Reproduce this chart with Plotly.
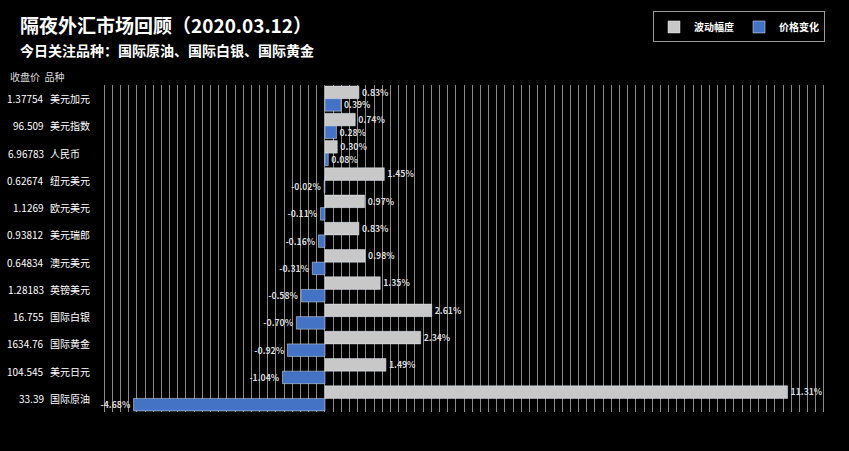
import plotly.graph_objects as go

names = ["美元加元","美元指数","人民币","纽元美元","欧元美元","美元瑞郎","澳元美元","英镑美元","国际白银","国际黄金","美元日元","国际原油"]
prices = ["1.37754","96.509","6.96783","0.62674","1.1269","0.93812","0.64834","1.28183","16.755","1634.76","104.545","33.39"]
wave = [0.83,0.74,0.30,1.45,0.97,0.83,0.98,1.35,2.61,2.34,1.49,11.31]
change = [0.39,0.28,0.08,-0.02,-0.11,-0.16,-0.31,-0.58,-0.70,-0.92,-1.04,-4.68]

F = "Noto Sans CJK SC"
W, H, L, R, T, B = 849, 451, 98, 23, 83, 39
PW, PH = W - L - R, H - T - B
def px(x): return (x - L) / PW
def py(y): return (H - B - y) / PH

fig = go.Figure()
fig.add_bar(y=names, x=wave, orientation="h", name="<b>波动幅度</b>", marker_color="#c8c8c8",
            text=[f"<b>{v:.2f}%</b>" for v in wave], textposition="outside", cliponaxis=False,
            textfont=dict(color="#dddddd", size=9, family=F))
fig.add_bar(y=names, x=change, orientation="h", name="<b>价格变化</b>", marker_color="#4472c4",
            text=[f"<b>{v:.2f}%</b>" for v in change], textposition="outside", cliponaxis=False,
            textfont=dict(color="#dddddd", size=9, family=F))

ann = []
for n, p in zip(names, prices):
    ann.append(dict(x=px(46), xref="paper", y=n, yref="y", text=p, showarrow=False, xanchor="right",
                    font=dict(color="white", size=10, family=F)))
    ann.append(dict(x=px(48), xref="paper", y=n, yref="y", text=n, showarrow=False, xanchor="left",
                    font=dict(color="white", size=10, family=F)))
ann.append(dict(x=px(8), xref="paper", y=py(74), yref="paper", text="收盘价  品种", showarrow=False,
                xanchor="left", yanchor="middle", font=dict(color="#dddddd", size=10, family=F)))
ann.append(dict(x=px(18), xref="paper", y=py(22), yref="paper", text="<b>隔夜外汇市场回顾（2020.03.12）</b>",
                showarrow=False, xanchor="left", yanchor="middle", font=dict(color="white", size=19, family=F)))
ann.append(dict(x=px(18), xref="paper", y=py(48), yref="paper", text="<b>今日关注品种：国际原油、国际白银、国际黄金</b>",
                showarrow=False, xanchor="left", yanchor="middle", font=dict(color="white", size=14, family=F)))

fig.update_layout(
    width=W, height=H, paper_bgcolor="black", plot_bgcolor="black",
    margin=dict(l=L, r=R, t=T, b=B),
    barmode="group", bargap=0.08, bargroupgap=0,
    annotations=ann,
    xaxis=dict(range=[-5.55, 12.25], dtick=0.2, tick0=0, showgrid=True, gridcolor="#8a8a8a", gridwidth=1,
               showticklabels=False, zeroline=False, fixedrange=True),
    yaxis=dict(autorange="reversed", showticklabels=False, showgrid=False),
    legend=dict(orientation="h", x=px(825), xanchor="right", y=py(9), yanchor="top",
                bgcolor="black", bordercolor="#999999", borderwidth=1, itemwidth=30,
                font=dict(color="white", size=10, family=F), traceorder="normal"),
    showlegend=True,
)
fig.write_html("out.html", config={"displayModeBar": False},
               post_script="document.body.style.margin='0';document.body.style.background='black';")
